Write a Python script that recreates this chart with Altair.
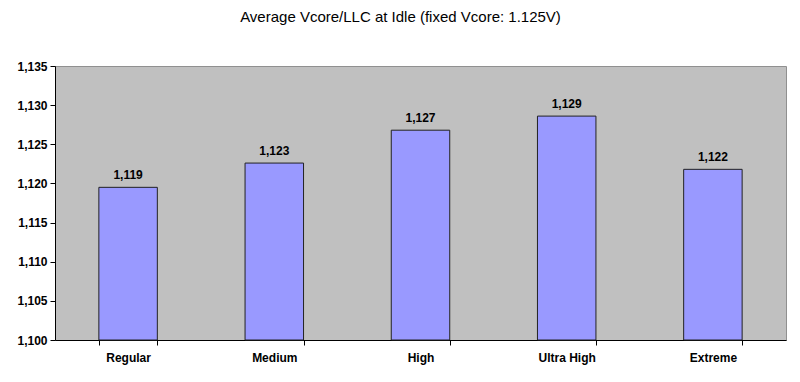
import altair as alt
import pandas as pd

categories = ["Regular", "Medium", "High", "Ultra High", "Extreme"]
values = [1.1195, 1.1226, 1.1268, 1.1286, 1.1218]
y_ticks = [1.100, 1.105, 1.110, 1.115, 1.120, 1.125, 1.130, 1.135]
title_text = "Average Vcore/LLC at Idle (fixed Vcore: 1.125V)"

df = pd.DataFrame({"cat": categories, "val": values})

FONT = "Liberation Sans"

x = alt.X("cat:N", sort=categories, title=None,
          scale=alt.Scale(paddingInner=0.6, paddingOuter=0.3),
          axis=alt.Axis(labelAngle=0, labelFont=FONT, labelFontSize=12, labelFontWeight="bold",
                        labelColor="black", labelPadding=7, tickBand="extent", tickSize=5,
                        tickColor="black", domainColor="black", labelFlush=False,
                        labelOverlap=False))
y = alt.Y("val:Q", title=None,
          scale=alt.Scale(domain=[1.100, 1.135], zero=False, nice=False, clamp=True),
          axis=alt.Axis(values=y_ticks, grid=False, labelFont=FONT, labelFontSize=12,
                        labelFontWeight="bold", labelColor="black", tickSize=5, tickColor="black",
                        domainColor="black", labelPadding=3, labelOverlap=False, labelFlush=False,
                        labelExpr="replace(format(datum.value, '.3f'), '.', ',')"))

bars = alt.Chart(df).mark_bar(color="#9999FF", stroke="#222222", strokeWidth=1).encode(x=x, y=y)

labels = alt.Chart(df).transform_calculate(
    lab="replace(format(datum.val, '.3f'), '.', ',')"
).mark_text(baseline="bottom", dy=-5, font=FONT, fontSize=12, fontWeight="bold", color="black").encode(
    x=x, y=y, text="lab:N")

chart = alt.layer(bars, labels).properties(
    width=731, height=274,
    title=alt.TitleParams(title_text, font=FONT, fontSize=15, fontWeight="normal", color="black",
                          anchor="middle", offset=35, dx=-20),
    padding={"left": 47, "top": 58, "right": 6, "bottom": 26},
    autosize=alt.AutoSizeParams(type="none"),
    background="white",
).configure_view(fill="#C0C0C0", stroke="#909090", strokeWidth=1)

chart.save("out.html", embed_options={"renderer": "svg", "actions": False})
